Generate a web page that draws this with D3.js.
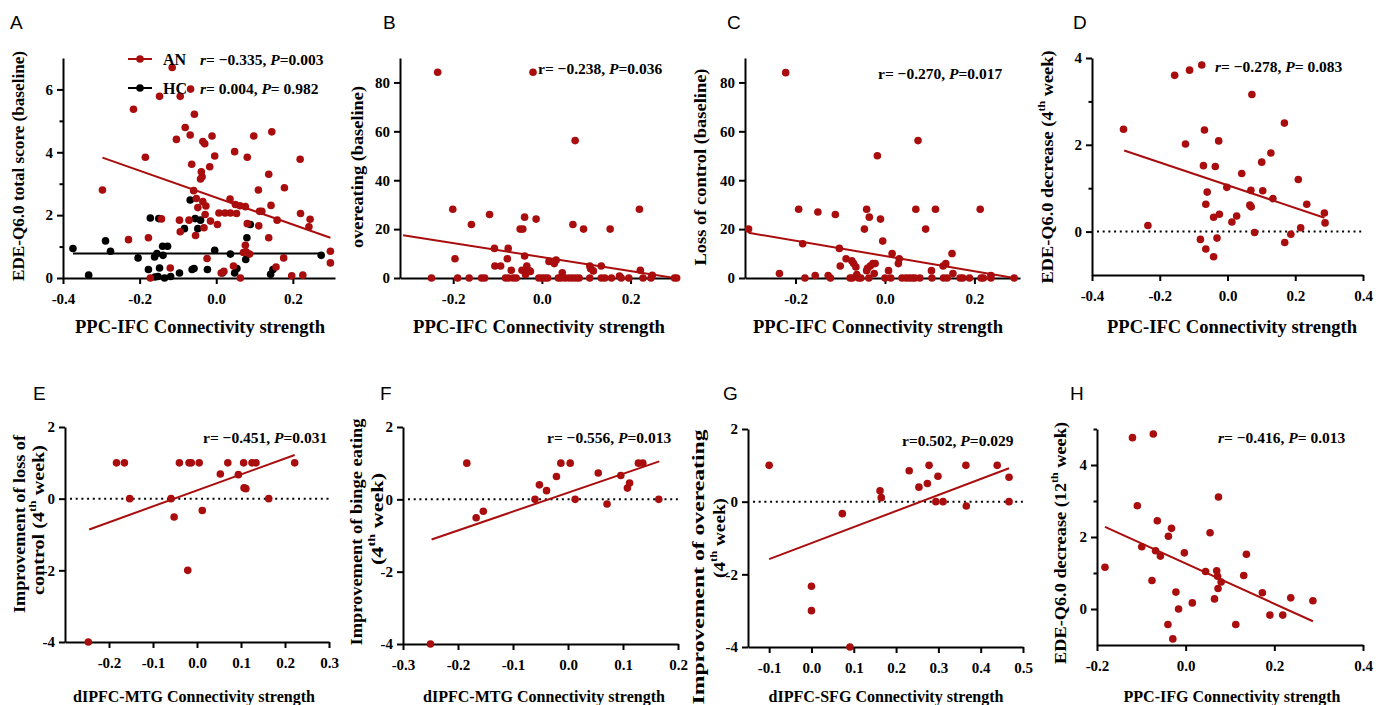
<!DOCTYPE html>
<html><head><meta charset="utf-8">
<script src="https://cdn.jsdelivr.net/npm/d3@7"></script>
<style>body{margin:0;background:#fff}</style>
</head><body>
<svg id="c" width="1384" height="705"></svg>
<script>
// ---------------- DATA ----------------
const panelA_AN = [[-0.115,6.70],[-0.067,6.01],[-0.148,5.78],[-0.094,5.78],[-0.216,5.37],[-0.057,5.21],[-0.081,4.79],[-0.104,4.41],[-0.068,4.55],[-0.035,4.34],[-0.030,4.27],[-0.011,4.52],[0.098,4.52],[0.145,4.65],[-0.185,3.84],[-0.004,3.88],[0.048,4.02],[0.081,3.84],[0.219,3.78],[-0.064,3.62],[-0.039,3.38],[-0.017,3.54],[-0.037,3.22],[-0.041,3.15],[0.137,3.30],[-0.297,2.80],[-0.059,2.78],[0.110,2.80],[0.178,2.87],[-0.052,2.53],[-0.035,2.43],[-0.027,2.29],[0.036,2.51],[-0.048,2.24],[0.050,2.34],[0.062,2.30],[0.076,2.27],[0.143,2.31],[-0.029,2.02],[0.007,2.07],[0.023,2.07],[0.037,2.07],[0.053,2.05],[0.113,2.12],[0.119,2.12],[0.220,2.05],[0.245,1.87],[-0.143,1.88],[-0.096,1.84],[-0.071,1.84],[-0.015,1.81],[0.003,1.70],[0.081,1.73],[0.111,1.66],[0.159,1.84],[0.242,1.63],[-0.032,1.60],[-0.094,1.47],[-0.054,1.35],[-0.229,1.22],[-0.177,1.28],[0.137,1.28],[0.076,1.04],[0.078,0.83],[0.071,0.81],[0.087,0.76],[0.298,0.85],[0.298,0.48],[0.176,0.64],[-0.024,0.62],[0.045,0.38],[0.156,0.35],[-0.120,0.32],[0.013,0.16],[0.020,0.21],[-0.172,0.0],[0.063,0.0],[0.197,0.07],[0.226,0.09]];
const panelA_HC = [[-0.374,0.94],[-0.333,0.09],[-0.289,1.18],[-0.276,0.85],[-0.204,0.64],[-0.172,1.91],[-0.177,0.27],[-0.161,0.67],[-0.155,0.78],[-0.150,1.89],[-0.148,0.32],[-0.160,0.03],[-0.152,0.05],[-0.140,1.01],[-0.127,1.01],[-0.139,0.72],[-0.135,0.0],[-0.119,0.05],[-0.096,0.16],[-0.083,1.57],[-0.068,2.48],[-0.063,0.27],[-0.058,0.30],[-0.055,1.89],[-0.048,1.57],[-0.041,1.84],[-0.023,0.27],[-0.004,0.88],[0.016,0.16],[0.037,0.76],[0.048,0.16],[0.054,0.30],[0.077,0.59],[0.080,1.28],[0.089,1.70],[0.148,0.27],[0.142,0.12],[0.274,0.72]];
const fitA_AN = [[-0.297,3.83],[0.298,1.28]];
const fitA_HC = [[-0.374,0.78],[0.274,0.78]];

const panelB = [[-0.235,84.2],[-0.020,84.2],[0.075,56.2],[-0.201,28.1],[0.220,28.1],[-0.118,26.0],[-0.039,24.9],[-0.013,24.1],[-0.159,21.9],[0.070,21.9],[-0.049,20],[-0.043,20],[0.094,20],[0.154,20],[-0.107,12.1],[-0.076,12.1],[-0.196,7.9],[-0.078,7.9],[-0.039,9.0],[0.032,7.3],[0.016,6.8],[0.028,5.9],[-0.106,4.9],[-0.093,4.9],[-0.069,3.2],[-0.034,4.9],[-0.045,3.2],[-0.030,3.2],[-0.026,2.7],[0.108,4.9],[0.110,3.8],[0.116,2.9],[0.134,4.9],[0.222,3.2],[-0.037,1.4],[0.046,2.1],[0.175,0.8],[0.249,1.1],[-0.249,0],[-0.190,0],[-0.164,0],[-0.136,0],[-0.129,0],[-0.082,0],[-0.075,0],[-0.065,0],[-0.058,0],[-0.007,0],[0.0,0],[0.007,0],[0.013,0],[0.037,0],[0.043,0],[0.052,0],[0.061,0],[0.069,0],[0.077,0],[0.084,0],[0.108,0],[0.134,0],[0.142,0],[0.157,0],[0.179,0],[0.196,0],[0.228,0],[0.246,0],[0.299,0],[0.304,0]];
const fitB = [[-0.313,17.5],[0.299,0]];

const panelC = [[-0.222,84],[0.074,56.2],[-0.017,50],[-0.193,28.1],[-0.041,28.1],[0.069,28.1],[0.113,28.1],[0.213,28.1],[-0.150,27],[-0.111,26],[-0.035,24.9],[-0.010,24.1],[-0.305,20],[-0.046,20],[0.091,20],[-0.005,15.1],[-0.184,14],[-0.102,12.1],[0.016,10],[0.150,10],[-0.087,7.9],[-0.074,7],[0.032,7.9],[-0.070,5.9],[0.030,5.9],[0.136,5.9],[-0.100,4.9],[-0.065,4.5],[-0.033,4.9],[-0.039,4.0],[-0.027,5.9],[-0.022,5.9],[0.130,4.9],[-0.041,3.0],[0.008,3.0],[0.104,3.0],[-0.024,1.8],[0.152,1.8],[-0.063,1.4],[-0.236,1.8],[-0.156,1.0],[-0.127,1.0],[0.237,1.0],[-0.179,0],[-0.122,0],[-0.078,0],[-0.073,0],[-0.059,0],[-0.054,0],[-0.036,0],[0.0,0],[0.013,0],[0.038,0],[0.047,0],[0.054,0],[0.061,0],[0.067,0],[0.078,0],[0.105,0],[0.131,0],[0.139,0],[0.168,0],[0.174,0],[0.189,0],[0.215,0],[0.220,0],[0.237,0],[0.289,0]];
const fitC = [[-0.305,18.5],[0.289,0]];

const panelD = [[-0.076,3.84],[-0.112,3.72],[-0.156,3.60],[0.072,3.16],[-0.307,2.36],[-0.068,2.34],[0.168,2.50],[-0.124,2.02],[-0.026,2.09],[0.128,1.81],[0.101,1.60],[-0.071,1.52],[-0.036,1.50],[0.042,1.34],[0.209,1.20],[-0.002,1.02],[0.069,0.95],[0.104,0.94],[-0.060,0.91],[0.134,0.76],[0.234,0.63],[-0.064,0.63],[0.066,0.61],[0.070,0.57],[0.286,0.43],[-0.024,0.40],[0.027,0.36],[-0.041,0.33],[0.013,0.22],[0.288,0.20],[-0.235,0.14],[0.216,0.09],[0.080,-0.02],[0.187,-0.06],[-0.080,-0.18],[-0.031,-0.15],[0.169,-0.25],[-0.064,-0.40],[-0.041,-0.58]];
const fitD = [[-0.305,1.87],[0.286,0.32]];

const panelE = [[-0.183,1],[-0.165,1],[-0.040,1],[-0.018,1],[-0.013,1],[0.005,1],[0.070,1],[0.106,1],[0.125,1],[0.134,1],[0.222,1],[0.053,0.69],[0.094,0.67],[0.107,0.30],[0.111,0.28],[-0.153,0],[-0.059,0],[0.163,0],[0.012,-0.33],[-0.052,-0.51],[-0.021,-2.0],[-0.247,-4.0]];
const fitE = [[-0.245,-0.86],[0.222,1.22]];

const panelF = [[-0.184,1],[-0.013,1],[0.004,1],[0.128,1],[0.136,1],[-0.021,0.63],[0.055,0.73],[0.096,0.66],[-0.052,0.40],[0.112,0.45],[0.108,0.31],[-0.039,0.24],[-0.060,0],[0.013,0],[0.165,0],[0.071,-0.13],[-0.154,-0.33],[-0.167,-0.51],[-0.250,-4.0]];
const fitF = [[-0.248,-1.11],[0.166,1.05]];

const panelG = [[-0.100,1],[0.278,1],[0.365,1],[0.439,1],[0.231,0.85],[0.299,0.70],[0.467,0.67],[0.274,0.50],[0.254,0.40],[0.162,0.30],[0.165,0.11],[0.294,0],[0.311,0],[0.467,0],[0.366,-0.12],[0.073,-0.33],[0.0,-2.33],[0.0,-3.0],[0.091,-4.0]];
const fitG = [[-0.100,-1.58],[0.467,0.92]];

const panelH = [[-0.120,4.76],[-0.073,4.86],[0.074,3.11],[-0.109,2.87],[-0.064,2.45],[-0.032,2.24],[0.055,2.12],[-0.039,2.02],[-0.099,1.73],[-0.068,1.62],[-0.003,1.56],[0.137,1.52],[-0.057,1.47],[-0.182,1.16],[0.045,1.04],[0.070,1.06],[0.072,0.91],[0.131,0.93],[0.080,0.75],[-0.076,0.79],[0.073,0.57],[0.173,0.45],[-0.022,0.47],[0.237,0.31],[0.065,0.28],[0.287,0.23],[0.015,0.17],[-0.016,0.0],[0.190,-0.17],[0.219,-0.17],[-0.040,-0.43],[0.113,-0.43],[-0.029,-0.83]];
const fitH = [[-0.182,2.28],[0.287,-0.34]];

const ticksX_PPC = [-0.4,-0.2,0.0,0.2];
const ticksX_BC = [-0.2,0.0,0.2];
const ticksX_D = [-0.4,-0.2,0.0,0.2,0.4];
const ticksX_E = [-0.2,-0.1,0.0,0.1,0.2,0.3];
const ticksX_F = [-0.3,-0.2,-0.1,0.0,0.1,0.2];
const ticksX_G = [-0.1,0.0,0.1,0.2,0.3,0.4,0.5];
const ticksX_H = [-0.2,0.0,0.2,0.4];
const ticksY_A = [0,2,4,6], minorY_A = [1,3,5];
const ticksY_BC = [0,20,40,60,80];
const ticksY_D = [0,2,4], minorY_D = [1,3];
const ticksY_EFG = [-4,-2,0,2];
const ticksY_H = [0,2,4], minorY_H = [1,3,5];

// ---------------- DRAW ----------------
const RED = "#a90d0d";
const SERIF = "'Liberation Serif','Times New Roman',serif";
const SANS = "'Liberation Sans',Arial,sans-serif";
const svg = d3.select("#c");
svg.append("rect").attr("width",1384).attr("height",705).attr("fill","#fff");

const fx = d => d3.format(".1f")(d).replace("\u2212","-");
const fy = d => String(d);

function stats(g, x, y, parts) {
  const t = g.append("text").attr("x", x).attr("y", y)
    .attr("font-family", SERIF).attr("font-weight","bold").attr("font-size", 15.5)
    .attr("dominant-baseline","central");
  parts.forEach(p => t.append("tspan").attr("font-style", p[1] ? "italic" : "normal").text(p[0]));
}

function ylabel(g, x, y, parts, size, len) {
  const t = g.append("text").attr("transform", `translate(${x},${y}) rotate(-90)`)
    .attr("x", -len/2).attr("text-anchor","start").attr("dominant-baseline","central")
    .attr("font-family", SERIF).attr("font-weight","bold").attr("font-size", size)
    .attr("textLength", len).attr("lengthAdjust","spacingAndGlyphs");
  parts.forEach(p => {
    const s = t.append("tspan").text(p[0]);
    if (p[1]) s.attr("baseline-shift","super").attr("font-size", size*0.65);
  });
}

function panel(c) {
  const g = svg.append("g");
  const x = d3.scaleLinear().domain(c.xd).range(c.xr);
  const y = d3.scaleLinear().domain(c.yd).range(c.yr);
  g.append("text").attr("x", c.letter[1]).attr("y", c.letter[2]).text(c.letter[0])
    .attr("font-family", SANS).attr("font-size", 19).attr("dominant-baseline","central");

  g.append("g").attr("transform", `translate(0,${c.yr[0]})`)
    .call(d3.axisBottom(x).tickValues(c.xt).tickFormat(fx).tickSize(6).tickSizeOuter(0).tickPadding(9));
  g.append("g").attr("transform", `translate(${c.xr[0]},0)`)
    .call(d3.axisLeft(y).tickValues(c.yt).tickFormat(fy).tickSize(6).tickSizeOuter(0).tickPadding(4));
  if (c.ym) {
    g.append("g").attr("transform", `translate(${c.xr[0]},0)`)
      .call(d3.axisLeft(y).tickValues(c.ym).tickFormat("").tickSize(3.5).tickSizeOuter(0))
      .select(".domain").remove();
  }
  g.selectAll(".domain").attr("stroke","#000").attr("stroke-width",2);
  g.selectAll(".tick line").attr("stroke","#000").attr("stroke-width",2);
  g.selectAll(".tick text").attr("font-family", SERIF).attr("font-weight","bold")
    .attr("font-size", 15).attr("fill","#000");

  if (c.zero) {
    g.append("line").attr("x1", c.xr[0]+5).attr("x2", c.xr[1]).attr("y1", y(0)).attr("y2", y(0))
      .attr("stroke","#000").attr("stroke-width",2).attr("stroke-dasharray","2,3.7");
  }
  c.series.forEach(s => {
    g.append("g").selectAll("circle").data(s.pts).join("circle")
      .attr("cx", d => x(d[0])).attr("cy", d => y(d[1])).attr("r", 3.8).attr("fill", s.color);
    g.append("line").attr("x1", x(s.fit[0][0])).attr("y1", y(s.fit[0][1]))
      .attr("x2", x(s.fit[1][0])).attr("y2", y(s.fit[1][1]))
      .attr("stroke", s.color).attr("stroke-width", 2);
  });
  g.append("text").attr("x", c.xl[1] - c.xl[4]/2).attr("y", c.xl[2])
    .attr("dominant-baseline","central").attr("font-family", SERIF).attr("font-weight","bold")
    .attr("font-size", c.xl[3]).attr("textLength", c.xl[4]).attr("lengthAdjust","spacingAndGlyphs")
    .text(c.xl[0]);
  return {g, x, y};
}

// A
const A = panel({letter:["A",10,22], xd:[-0.4,0.31], xr:[63,335], yd:[0,7], yr:[278,58],
  xt:ticksX_PPC, yt:ticksY_A, ym:minorY_A,
  series:[{pts:panelA_HC, fit:fitA_HC, color:"#000"},{pts:panelA_AN, fit:fitA_AN, color:RED}],
  xl:["PPC-IFC Connectivity strength",200,327,18,250]});
ylabel(A.g, 18, 166, [["EDE-Q6.0 total score (baseline)"]], 17.5, 230);
[[59,RED,"AN","= −0.335, ","=0.003"],[88,"#000","HC","= 0.004, ","= 0.982"]].forEach(l => {
  A.g.append("line").attr("x1",128).attr("x2",152).attr("y1",l[0]).attr("y2",l[0]).attr("stroke",l[1]).attr("stroke-width",2);
  A.g.append("circle").attr("cx",140).attr("cy",l[0]).attr("r",3.8).attr("fill",l[1]);
  A.g.append("text").attr("x",163).attr("y",l[0]).attr("dominant-baseline","central")
    .attr("font-family",SERIF).attr("font-weight","bold").attr("font-size",16).text(l[2]);
  stats(A.g, 200, l[0], [["r",1],[l[3]],["P",1],[l[4]]]);
});

// B
const B = panel({letter:["B",383,22], xd:[-0.32,0.307], xr:[400,678], yd:[0,90], yr:[278,58],
  xt:ticksX_BC, yt:ticksY_BC, series:[{pts:panelB, fit:fitB, color:RED}],
  xl:["PPC-IFC Connectivity strength",539,327,18,252]});
ylabel(B.g, 357, 167, [["overeating (baseline)"]], 17.5, 162);
stats(B.g, 538, 68, [["r= −0.238, "],["P",1],["=0.036"]]);

// C
const C = panel({letter:["C",727,22], xd:[-0.313,0.302], xr:[745,1020], yd:[0,90], yr:[278,58],
  xt:ticksX_BC, yt:ticksY_BC, series:[{pts:panelC, fit:fitC, color:RED}],
  xl:["PPC-IFC Connectivity strength",878,327,18,250]});
ylabel(C.g, 700, 167, [["Loss of control (baseline)"]], 17.5, 197);
stats(C.g, 878, 73, [["r= −0.270, "],["P",1],["=0.017"]]);

// D
const D = panel({letter:["D",1073,22], xd:[-0.4,0.4], xr:[1092,1363], yd:[-1,4], yr:[275,58],
  xt:ticksX_D, yt:ticksY_D, ym:minorY_D, zero:true, series:[{pts:panelD, fit:fitD, color:RED}],
  xl:["PPC-IFC Connectivity strength",1232,327,18,250]});
ylabel(D.g, 1047, 167, [["EDE-Q6.0 decrease (4"],["th",1],[" week)"]], 17.5, 233);
stats(D.g, 1215, 66, [["r",1],["= −0.278, "],["P",1],["= 0.083"]]);

// E
const E = panel({letter:["E",33,393], xd:[-0.3,0.3], xr:[65,329], yd:[-4,2], yr:[642,427],
  xt:ticksX_E, yt:ticksY_EFG, zero:true, series:[{pts:panelE, fit:fitE, color:RED}],
  xl:["dIPFC-MTG Connectivity strength",194,696,16.5,242]});
ylabel(E.g, 19, 524, [["Improvement of loss of"]], 17, 178);
ylabel(E.g, 38, 520, [["control (4"],["th",1],[" week)"]], 17, 150);
stats(E.g, 203, 437, [["r= −0.451, "],["P",1],["=0.031"]]);

// F
const F = panel({letter:["F",380,393], xd:[-0.3,0.2], xr:[403,678], yd:[-4,2], yr:[644,427],
  xt:ticksX_F, yt:ticksY_EFG, zero:true, series:[{pts:panelF, fit:fitF, color:RED}],
  xl:["dIPFC-MTG Connectivity strength",544,696,16.5,242]});
ylabel(F.g, 356, 532, [["Improvement of  binge eating"]], 17, 227);
ylabel(F.g, 377, 519, [["(4"],["th",1],[" week)"]], 17, 92);
stats(F.g, 547, 437, [["r= −0.556, "],["P",1],["=0.013"]]);

// G
const G = panel({letter:["G",723,393], xd:[-0.15,0.5], xr:[748,1023], yd:[-4,2], yr:[647,429],
  xt:ticksX_G, yt:ticksY_EFG, zero:true, series:[{pts:panelG, fit:fitG, color:RED}],
  xl:["dIPFC-SFG Connectivity strength",886,696,16.5,235]});
ylabel(G.g, 698, 567, [["Improvement of overeating"]], 17, 275);
ylabel(G.g, 719, 538, [["(4"],["th",1],[" week)"]], 17, 80);
stats(G.g, 902, 440, [["r=0.502, "],["P",1],["=0.029"]]);

// H
const H = panel({letter:["H",1070,393], xd:[-0.2,0.4], xr:[1097,1363], yd:[-1,5], yr:[645,429],
  xt:ticksX_H, yt:ticksY_H, ym:minorY_H, series:[{pts:panelH, fit:fitH, color:RED}],
  xl:["PPC-IFG Connectivity strength",1232,696,16.5,217]});
ylabel(H.g, 1060, 543, [["EDE-Q6.0 decrease (12"],["th",1],[" week)"]], 17, 242);
stats(H.g, 1218, 437, [["r",1],["= −0.416, "],["P",1],["= 0.013"]]);
</script>
</body></html>
